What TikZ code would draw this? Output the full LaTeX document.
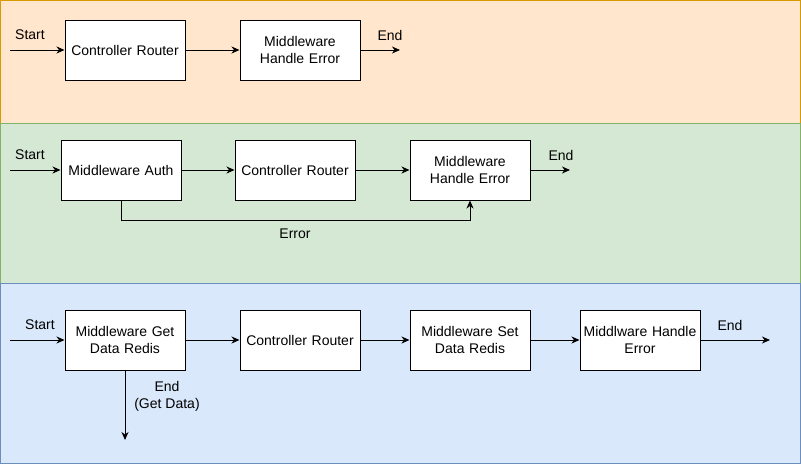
\documentclass[tikz,border=0pt]{standalone}
\usepackage{fontspec}
\setmainfont{Liberation Sans}
\usetikzlibrary{arrows.meta}
\definecolor{orfill}{HTML}{FFE6CC}\definecolor{ordraw}{HTML}{D79B00}
\definecolor{grfill}{HTML}{D5E8D4}\definecolor{grdraw}{HTML}{82B366}
\definecolor{blfill}{HTML}{DAE8FC}\definecolor{bldraw}{HTML}{6C8EBF}
\tikzset{
  box/.style={draw=black,fill=white,line width=1pt,minimum width=120pt,minimum height=60pt,inner sep=2pt,align=center,text width=116pt},
  lbl/.style={inner sep=0pt,align=center},
  flow/.style={line width=1pt,-{Stealth[length=8pt,width=7pt,inset=2.5pt]}},
}
\begin{document}
\begin{tikzpicture}[x=1pt,y=-1pt,font=\fontsize{14}{17}\selectfont]
\useasboundingbox (0,0) rectangle (801,464);
% panels
\draw[fill=orfill,draw=ordraw,line width=1pt] (0.5,0.5) rectangle (800.5,123);
\draw[fill=grfill,draw=grdraw,line width=1pt] (0.5,123) rectangle (800.5,283);
\draw[fill=blfill,draw=bldraw,line width=1pt] (0.5,283) rectangle (800.5,463.5);
% panel 1
\node[box] (a1) at (125,50) {Controller Router};
\node[box] (a2) at (300,50) {Middleware\\Handle Error};
\coordinate (a0) at (10,50);
\coordinate (ae) at (400,50);
\draw[flow] (a0) -- (a1);
\draw[flow] (a1) -- (a2);
\draw[flow] (a2) -- (ae);
\node[lbl] (as) at (30,35) {Start};
\node[lbl] (aend) at (390,35) {End};
% panel 2
\node[box] (b1) at (121,170) {Middleware Auth};
\node[box] (b2) at (295,170) {Controller Router};
\node[box] (b3) at (470,170) {Middleware\\Handle Error};
\coordinate (b0) at (10,170);
\coordinate (be) at (570,170);
\draw[flow] (b0) -- (b1);
\draw[flow] (b1) -- (b2);
\draw[flow] (b2) -- (b3);
\draw[flow] (b3) -- (be);
\draw[flow] (b1.south) -- ++(0,20) -| (b3.south);
\node[lbl] (bs) at (30,155) {Start};
\node[lbl] (bend) at (561,155) {End};
\node[lbl] (berr) at (295,234) {Error};
% panel 3
\node[box] (c1) at (125,340) {Middleware Get\\Data Redis};
\node[box] (c2) at (300,340) {Controller Router};
\node[box] (c3) at (470,340) {Middleware Set\\Data Redis};
\node[box] (c4) at (640,340) {Middlware Handle\\Error};
\coordinate (c0) at (10,340);
\coordinate (ce) at (770,340);
\coordinate (cd) at (125,440);
\draw[flow] (c0) -- (c1);
\draw[flow] (c1) -- (c2);
\draw[flow] (c2) -- (c3);
\draw[flow] (c3) -- (c4);
\draw[flow] (c4) -- (ce);
\draw[flow] (c1.south) -- (cd);
\node[lbl] (cs) at (40,325) {Start};
\node[lbl] (cend) at (730,325) {End};
\node[lbl] (cgd) at (167,396) {End\\(Get Data)};
\end{tikzpicture}
\end{document}
